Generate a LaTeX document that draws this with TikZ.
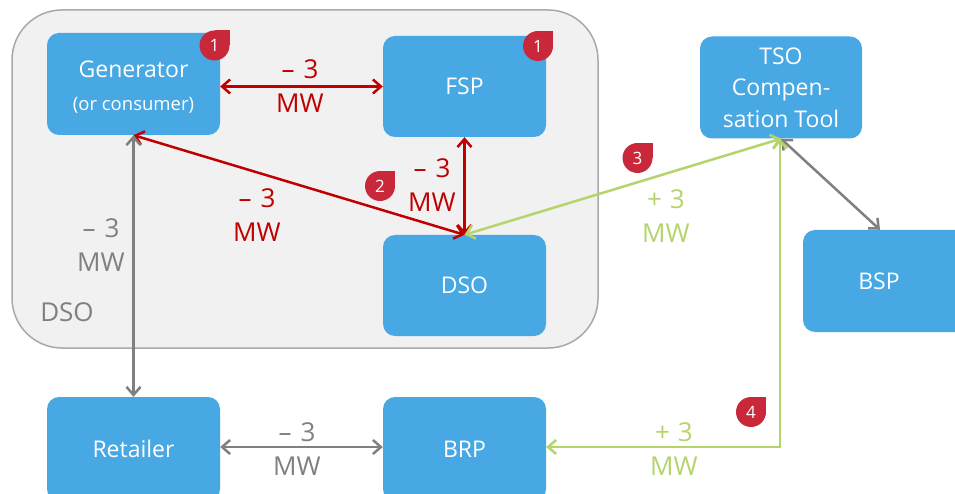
\documentclass[tikz,border=0pt]{standalone}
\usepackage{fontspec}
\setmainfont{Open Sans}
\usetikzlibrary{arrows.meta}
\definecolor{boxblue}{HTML}{48A8E3}
\definecolor{arred}{HTML}{C00000}
\definecolor{argreen}{HTML}{B4D46C}
\definecolor{argray}{HTML}{808080}
\definecolor{badgered}{HTML}{C8283A}
\definecolor{contfill}{HTML}{F1F1F2}
\definecolor{contline}{HTML}{A9A9A9}
\tikzset{
  bluebox/.style={fill=boxblue, rounded corners=12pt, text=white, align=center,
    font=\fontsize{23}{31.5}\selectfont, inner sep=0pt},
  conn/.style={line width=2.5pt, {Straight Barb[length=8pt,width=14pt]}-{Straight Barb[length=8pt,width=14pt]}},
  lbl/.style={align=center, font=\fontsize{26}{34}\selectfont, inner sep=0pt},
  badge/.style={circle, fill=badgered, minimum size=30pt, inner sep=0pt},
}
\newcommand{\mybadge}[3]{%
  \node[badge] (#1) at #2 {};
  \fill[badgered] (#1.center) rectangle (#1.north -| #1.east);
  \node[text=white, font=\fontsize{17}{17}\selectfont, inner sep=0pt] at (#1.center) {#3};
}
\newcommand{\minus}{–\hspace{0.35em}3}
\newcommand{\plus}{+\hspace{0.3em}3}
\begin{document}
\begin{tikzpicture}[x=1pt,y=-1pt]
\useasboundingbox (0,0) rectangle (955,494);
\fill[white] (0,0) rectangle (955,494);
% container
\node[draw=contline, fill=contfill, line width=1.5pt, rounded corners=50pt,
  minimum width=586pt, minimum height=338pt, inner sep=0pt] (dsoc) at (305,179) {};
\node[text=argray, font=\fontsize{26}{26}\selectfont, inner sep=0pt] (dsolbl) at (67,312) {DSO};
% boxes
\node[bluebox, minimum width=173pt, minimum height=102pt] (gen) at (133.5,84)
  {};
\node[text=white, align=center, font=\fontsize{23}{31.5}\selectfont, inner sep=0pt] (gentext) at (133.5,87)
  {Generator\\[1pt]{\fontsize{18.5}{22}\selectfont (or consumer)}};
\node[bluebox, minimum width=163pt, minimum height=101pt] (fsp) at (464.5,86.5) {FSP};
\node[bluebox, minimum width=163pt, minimum height=101pt] (dso) at (464.5,285.5) {DSO};
\node[bluebox, minimum width=162pt, minimum height=102pt] (tso) at (781,87.5) {TSO\\Compen-\\sation Tool};
\node[bluebox, minimum width=170pt, minimum height=102pt] (bsp) at (888,281) {\hspace*{-18pt}BSP};
\node[bluebox, minimum width=173pt, minimum height=104pt] (ret) at (133.5,449) {Retailer};
\node[bluebox, minimum width=163pt, minimum height=104pt] (brp) at (464.5,449) {BRP};
% badges
\mybadge{b1a}{(214.5,45.5)}{1}
\mybadge{b1b}{(538,46)}{1}
\mybadge{b2}{(380,186)}{2}
\mybadge{b3}{(637.5,158)}{3}
\mybadge{b4}{(751,412)}{4}
% connectors
\coordinate (corner) at (780,447);
\draw[conn, arred] (gen.east |- fsp.west) -- (fsp.west);
\draw[conn, arred] (gen.south) -- (dso.north);
\draw[conn, arred] (fsp.south) -- (dso.north);
\draw[conn, argreen] (dso.north) -- (tso.south);
\draw[conn, argray] (tso.south) -- (bsp.north -| 880,0);
\draw[conn, argray] (gen.south) -- (ret.north);
\draw[conn, argray] (ret.east |- corner) -- (brp.west |- corner);
\draw[conn, argreen] (brp.east |- corner) -- (corner) -- (tso.south -| corner);
% labels
\node[lbl, text=arred] (l1) at (300,86) {\minus\\MW};
\node[lbl, text=arred] (l2) at (257,215) {\minus\\MW};
\node[lbl, text=arred] (l3) at (432,185) {\minus\\MW};
\node[lbl, text=argreen] (l4) at (666,216) {\plus\\MW};
\node[lbl, text=argray] (l5) at (101,245) {\minus\\MW};
\node[lbl, text=argray] (l6) at (297,449) {\minus\\MW};
\node[lbl, text=argreen] (l7) at (674,449) {\plus\\MW};
\end{tikzpicture}
\end{document}
